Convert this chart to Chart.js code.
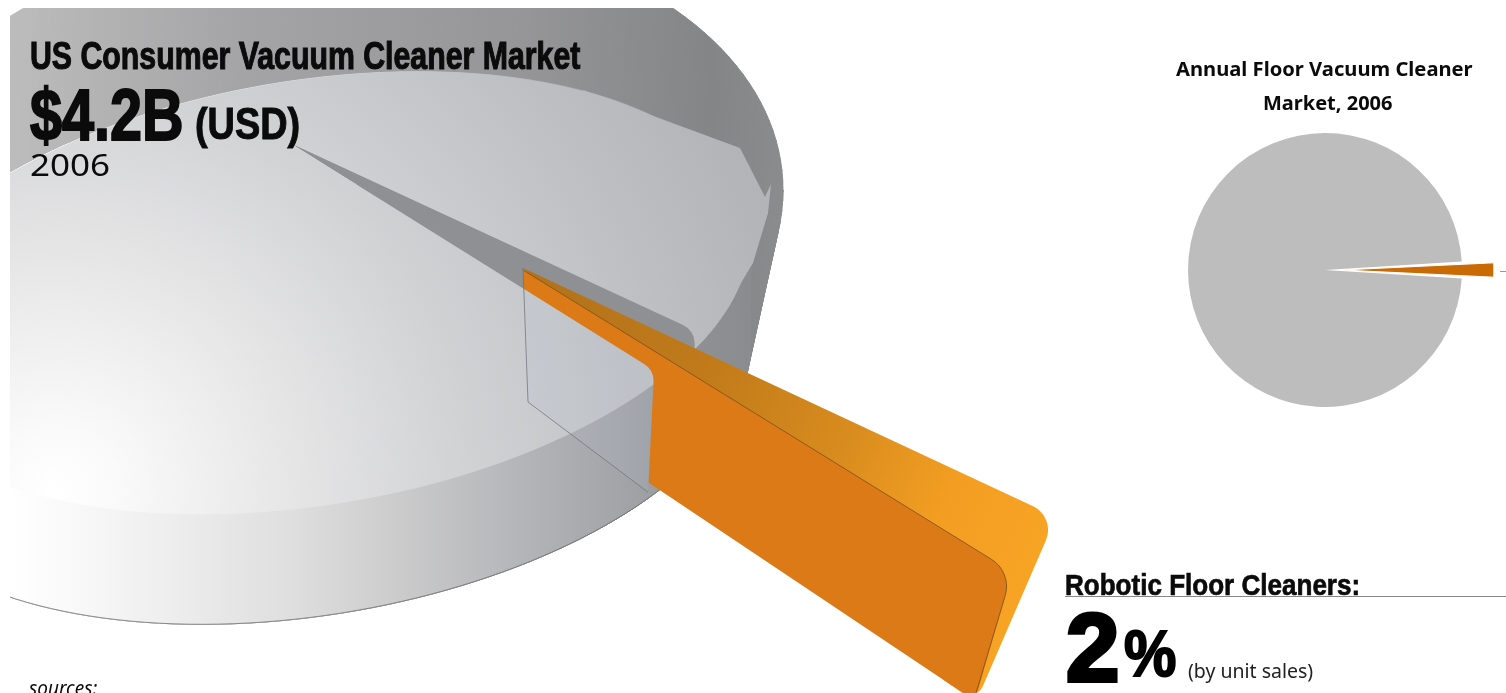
<!DOCTYPE html>
<html>
<head>
<meta charset="utf-8">
<title>US Consumer Vacuum Cleaner Market</title>
<script src="https://cdn.jsdelivr.net/npm/chart.js@4.4.0/dist/chart.umd.js"></script>
<style>
    html, body { margin: 0; padding: 0; background: #fff; overflow: hidden; }
    body { position: relative; width: 1506px; height: 693px; font-family: "Noto Sans", sans-serif; color: #0b0b0b; }
    canvas { position: absolute; }
    .txt { position: absolute; white-space: nowrap; line-height: 1; transform-origin: left top; }
    .narrow { font-family: "Liberation Sans Narrow", "Liberation Sans", sans-serif; font-weight: 700; }
    #rule { position: absolute; left: 1065px; top: 596px; width: 441px; height: 1px; background: #888; }
    #tick { position: absolute; left: 1500px; top: 271px; width: 6px; height: 1px; background: #999; }
</style>
</head>
<body>
<canvas id="marketPie" width="1506" height="693" style="left:0;top:0"></canvas>
<canvas id="annualPie" width="360" height="360" style="left:1145px;top:90px"></canvas>

<div class="txt narrow" style="left:30px;top:37px;font-size:38px;transform:scaleX(.797);-webkit-text-stroke:1.1px #0b0b0b">US Consumer Vacuum Cleaner Market</div>
<div class="txt narrow" style="left:30px;top:79px;font-size:72px;transform:scaleX(.8);-webkit-text-stroke:2px #0b0b0b">$4.2B</div>
<div class="txt narrow" style="left:195px;top:102px;font-size:44px;transform:scaleX(.86);-webkit-text-stroke:1px #0b0b0b">(USD)</div>
<div class="txt" style="left:30px;top:149px;font-size:31px;transform:scaleX(1.13)">2006</div>

<div class="txt" style="left:1176px;top:59px;font-size:20px;font-weight:700;transform:scaleX(1.008)">Annual Floor Vacuum Cleaner</div>
<div class="txt" style="left:1263px;top:93px;font-size:20px;font-weight:700;transform:scaleX(1.0)">Market, 2006</div>

<div class="txt narrow" style="left:1065px;top:570px;font-size:30px;transform:scaleX(.868);-webkit-text-stroke:.7px #0b0b0b">Robotic Floor Cleaners:</div>
<div id="rule"></div>
<div class="txt" style="left:1066px;top:600px;font-family:'Liberation Sans';font-weight:700;font-size:96px;-webkit-text-stroke:4px #000;color:#000">2</div>
<div class="txt" style="left:1124px;top:622px;font-family:'Liberation Sans';font-weight:700;font-size:64px;transform:scaleX(.92);-webkit-text-stroke:2px #000;color:#000">%</div>
<div class="txt" style="left:1188px;top:661px;font-size:19.5px;color:#222">(by unit sales)</div>
<div class="txt" style="left:29px;top:679px;font-size:19px;font-style:italic">sources:</div>
<div id="tick"></div>

<script>
const categories = ['Other floor vacuum cleaners', 'Robotic floor cleaners'];
const unitShares = [98, 2];
const bodyGrey = '#bdbdbd';
const sliceOrange = '#c96a05';

// Ellipses in screen space: centre, x half-width, skew and y half-height
const topRim = { cx: 310, cy: 293, rx: 440, skew: -54.55, ry: 214.5 };
const baseRim = { cx: 310, cy: 403, rx: 440, skew: -54.55, ry: 214.5 };
const backShell = { cx: 320, cy: 215, rx: 463, skew: -25, ry: 290 };
const pieApex = [290, 143];

// Pulled-out slice: three anchors each for its upper and lower plane
const wedgeTop = { apex: [523, 268], near: [1012, 572], far: [1056, 517] };
const wedgeBottom = { apex: [528, 402], near: [975, 701], far: [976, 702] };
const foreshorten = 0.758;

function rimPoint(e, t) {
    return [e.cx + e.rx * Math.cos(t), e.cy + e.skew * Math.cos(t) + e.ry * Math.sin(t)];
}

// Plane point (radius 0..1) to screen, with the centre of the disc moved to the apex
function project(r, angle) {
    const px = (pieApex[0] - topRim.cx) / topRim.rx;
    const py = (pieApex[1] - topRim.cy - topRim.skew * px) / topRim.ry;
    const s = Math.hypot(px, py), dx = px / s, dy = py / s;
    const qx = r * Math.cos(angle), qy = r * Math.sin(angle);
    const along = qx * dx + qy * dy;
    const perpX = qx - along * dx, perpY = qy - along * dy;
    const w = 1 + s * along, k = Math.sqrt(1 - s * s);
    const x = ((along + s) * dx + k * perpX) / w;
    const y = ((along + s) * dy + k * perpY) / w;
    return [topRim.cx + topRim.rx * x, topRim.cy + topRim.skew * x + topRim.ry * y];
}

// Point part way along the line from the apex to a rim point
function towardRim(angle, f) {
    const p = project(1, angle);
    return [pieApex[0] + (p[0] - pieApex[0]) * f, pieApex[1] + (p[1] - pieApex[1]) * f];
}

function roundedPath(ctx, pts) {
    const n = pts.length;
    const a = pts[n - 1], b = pts[0];
    ctx.beginPath();
    ctx.moveTo((a[0] + b[0]) / 2, (a[1] + b[1]) / 2);
    pts.forEach((p, i) => {
        const next = pts[(i + 1) % n];
        ctx.arcTo(p[0], p[1], next[0], next[1], p[2] || 0);
    });
    ctx.closePath();
}

// Fills the hull of two ellipses as a strip of small quads
function fillHull(ctx, e1, e2, fill) {
    ctx.fillStyle = fill;
    ctx.strokeStyle = fill;
    ctx.lineWidth = 1;
    const step = Math.PI / 90;
    for (let t = 0; t < Math.PI * 2; t += step) {
        const a = rimPoint(e1, t), b = rimPoint(e1, t + step);
        const c = rimPoint(e2, t + step), d = rimPoint(e2, t);
        ctx.beginPath();
        ctx.moveTo(a[0], a[1]); ctx.lineTo(b[0], b[1]); ctx.lineTo(c[0], c[1]); ctx.lineTo(d[0], d[1]);
        ctx.closePath();
        ctx.fill();
        ctx.stroke();
    }
}

function ellipsePath(ctx, e) {
    ctx.beginPath();
    for (let i = 0; i <= 180; i++) {
        const p = rimPoint(e, i * Math.PI / 90);
        if (i === 0) ctx.moveTo(p[0], p[1]); else ctx.lineTo(p[0], p[1]);
    }
    ctx.closePath();
}

function linear(ctx, x0, y0, x1, y1, stops) {
    const g = ctx.createLinearGradient(x0, y0, x1, y1);
    stops.forEach(([o, c]) => g.addColorStop(o, c));
    return g;
}

function drawFront(ctx) {
    const wall = linear(ctx, 10, 0, 760, 0, [
        [0, '#ffffff'], [0.12, '#f6f6f6'], [0.38, '#dedede'], [0.52, '#cbcbcc'],
        [0.68, '#b4b5b8'], [0.84, '#a0a1a5'], [0.92, '#8f9093'], [1, '#8a8b8e']
    ]);
    fillHull(ctx, topRim, baseRim, wall);
    ctx.strokeStyle = 'rgba(110,110,110,0.8)';
    ctx.lineWidth = 1;
    ctx.beginPath();
    for (let i = 5; i <= 85; i++) {
        const p = rimPoint(baseRim, i * Math.PI / 90);
        if (i === 5) ctx.moveTo(p[0], p[1]); else ctx.lineTo(p[0], p[1]);
    }
    ctx.stroke();
    drawFace(ctx);
}

function drawFace(ctx) {
    const g = ctx.createRadialGradient(55, 490, 0, 55, 490, 760);
    g.addColorStop(0, '#ffffff');
    g.addColorStop(0.08, '#fafafa');
    g.addColorStop(0.33, '#e4e4e5');
    g.addColorStop(0.55, '#d0d1d3');
    g.addColorStop(0.8, '#bfc0c3');
    g.addColorStop(1, '#b3b4b7');
    ellipsePath(ctx, topRim);
    ctx.fillStyle = g;
    ctx.fill();
    // small flare where the rim meets the back wall
    ctx.beginPath();
    ctx.moveTo(583, 90); ctx.lineTo(740, 148); ctx.lineTo(765, 197); ctx.lineTo(771, 184);
    ctx.lineTo(768, 213); ctx.lineTo(753, 263); ctx.lineTo(727, 306); ctx.lineTo(698, 340); ctx.lineTo(650, 200);
    ctx.closePath();
    ctx.fill();
}

// Maps a point of the slice to one of the wedge planes
function wedgePoint(plane, r, angle, mid, half) {
    const u = Math.sin(angle - mid) / Math.sin(half);
    const mx = (plane.near[0] + plane.far[0]) / 2, my = (plane.near[1] + plane.far[1]) / 2;
    const hx = (plane.near[0] - plane.far[0]) / 2, hy = (plane.near[1] - plane.far[1]) / 2;
    return [
        plane.apex[0] + r * (mx - plane.apex[0] + u * hx),
        plane.apex[1] + r * (my - plane.apex[1] + u * hy)
    ];
}

const pie3d = {
    id: 'pie3d',
    afterDatasetsDraw(chart) {
        const ctx = chart.ctx;
        const slice = chart.getDatasetMeta(0).data[1];
        const mid = (slice.startAngle + slice.endAngle) / 2;
        const half = (slice.endAngle - slice.startAngle) / 2;
        const farAngle = mid - half * foreshorten;
        const nearAngle = mid + half * foreshorten;

        ctx.save();
        ctx.beginPath();
        ctx.rect(10, 8, 1496, 685);
        ctx.clip();

        // back wall and the dark right-hand side
        const dark = linear(ctx, 10, 0, 790, 0, [[0, '#bcbcbc'], [0.3, '#a4a4a6'], [0.65, '#969698'], [0.9, '#848587'], [1, '#8b8c8e']]);
        fillHull(ctx, backShell, baseRim, dark);
        drawFront(ctx);

        // the empty notch left by the slice
        const farRim = towardRim(farAngle, 0.97);
        const notchLow = towardRim(mid + half, 1);
        roundedPath(ctx, [
            [pieApex[0], pieApex[1], 0],
            [farRim[0], farRim[1], 20],
            [farRim[0], farRim[1] + 22, 2],
            [notchLow[0], notchLow[1], 0]
        ]);
        ctx.fillStyle = '#8f9093';
        ctx.fill();

        // upper face and outer rim of the slice
        const P = (plane, r, a) => wedgePoint(plane, r, a, mid, half);
        const tApex = wedgeTop.apex, tFar = P(wedgeTop, 1, mid - half), tNear = P(wedgeTop, 1, mid + half);
        const bFar = P(wedgeBottom, 1, mid - half), bNear = P(wedgeBottom, 1, mid + half), bApex = wedgeBottom.apex;
        roundedPath(ctx, [
            [tApex[0], tApex[1], 0],
            [tFar[0], tFar[1], 26],
            [bFar[0], bFar[1], 14],
            [bNear[0] - 30, bNear[1] - 20, 0]
        ]);
        ctx.fillStyle = linear(ctx, tApex[0], tApex[1], tFar[0], tFar[1], [
            [0, '#b2721a'], [0.35, '#c07a1a'], [0.62, '#d88c1e'], [0.82, '#f39e22'], [1, '#f7a324']
        ]);
        ctx.fill();

        // near cut wall of the slice
        roundedPath(ctx, [
            [tApex[0], tApex[1] + 2, 0],
            [tNear[0], tNear[1], 32],
            [bNear[0], bNear[1], 10],
            [bApex[0], bApex[1], 0]
        ]);
        ctx.fillStyle = '#dd7a18';
        ctx.fill();
        ctx.strokeStyle = 'rgba(120,80,30,0.8)';
        ctx.lineWidth = 1;
        ctx.beginPath();
        ctx.moveTo(tApex[0], tApex[1] + 2);
        ctx.arcTo(tNear[0], tNear[1], bNear[0], bNear[1], 32);
        ctx.lineTo(bNear[0] + 1, bNear[1] - 8);
        ctx.stroke();

        // front of the pie passes in front of the slice
        const edgeTop = towardRim(nearAngle, 0.965);
        const edgeLow = [edgeTop[0] - 3, edgeTop[1] + 124];
        ctx.save();
        roundedPath(ctx, [
            [pieApex[0], pieApex[1], 0],
            [edgeTop[0] + 3, edgeTop[1] + 2, 20],
            [edgeLow[0], edgeLow[1], 6],
            [edgeLow[0] - 10, 700, 0],
            [0, 700, 0],
            [0, pieApex[1], 0]
        ]);
        ctx.clip();
        drawFront(ctx);
        ctx.restore();

        // slice seen through the glassy front of the pie
        const nearCut = [tApex[0], tApex[1] + 20];
        roundedPath(ctx, [
            [nearCut[0], nearCut[1], 0],
            [edgeTop[0] + 3, edgeTop[1] + 2, 20],
            [edgeLow[0], edgeLow[1], 0],
            [bApex[0], bApex[1], 0]
        ]);
        ctx.fillStyle = 'rgba(180,200,220,0.14)';
        ctx.fill();
        ctx.strokeStyle = 'rgba(110,115,125,0.75)';
        ctx.lineWidth = 1;
        ctx.beginPath();
        ctx.moveTo(tApex[0], tApex[1]);
        ctx.lineTo(bApex[0], bApex[1]);
        ctx.lineTo(edgeLow[0], edgeLow[1]);
        ctx.stroke();
        ctx.restore();
    }
};

new Chart(document.getElementById('marketPie'), {
    type: 'pie',
    data: {
        labels: categories,
        datasets: [{ data: unitShares, backgroundColor: 'transparent', borderWidth: 0 }]
    },
    options: {
        responsive: false,
        animation: false,
        rotation: 155.6,
        plugins: { legend: { display: false }, tooltip: { enabled: false } }
    },
    plugins: [pie3d]
});

new Chart(document.getElementById('annualPie'), {
    type: 'pie',
    data: {
        labels: categories,
        datasets: [{
            data: unitShares,
            backgroundColor: [bodyGrey, sliceOrange],
            borderColor: '#fff',
            borderWidth: [0, 1],
            offset: [0, 68]
        }]
    },
    options: {
        responsive: false,
        animation: false,
        radius: 137,
        rotation: 93.6,
        plugins: { legend: { display: false }, tooltip: { enabled: false } }
    }
});
</script>
</body>
</html>
